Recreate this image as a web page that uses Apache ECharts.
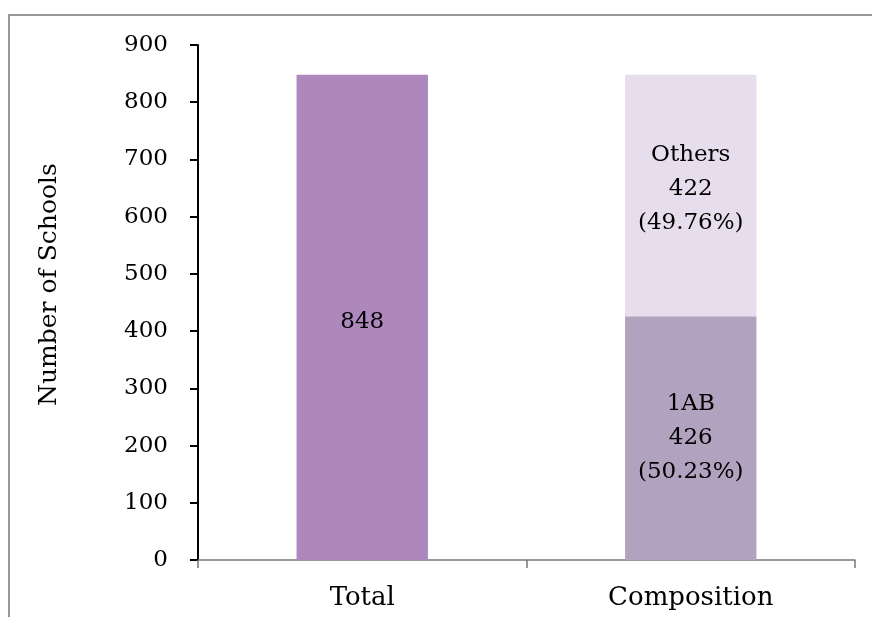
<!DOCTYPE html>
<html>
<head>
<meta charset="utf-8">
<script src="https://cdn.jsdelivr.net/npm/echarts@6/dist/echarts.min.js"></script>
<style>
  html, body { margin: 0; padding: 0; background: #fff; }
  #chart { width: 872px; height: 617px; }
</style>
</head>
<body>
<div id="chart"></div>
<script>
// données du graphique
var categories = ['Total', 'Composition'];
var totalValues = [848, '-'];
var abValues = ['-', 426];
var othersValues = ['-', 422];
var abPercent = '50.23%';
var othersPercent = '49.76%';

var fontFamily = '"DejaVu Serif", "Liberation Serif", serif';

var chart = echarts.init(document.getElementById('chart'), null, {renderer: 'canvas'});

var labelStyle = {
  show: true,
  position: 'inside',
  fontFamily: fontFamily,
  fontSize: 23,
  lineHeight: 34,
  color: '#000'
};

var option = {
  animation: false,
  backgroundColor: '#fff',
  graphic: [{
    type: 'rect',
    shape: {x: 9, y: 15, width: 900, height: 700},
    style: {fill: 'none', stroke: '#777', lineWidth: 1.5},
    z: -1
  }],
  grid: {left: 198, right: 17, top: 45, bottom: 57},
  xAxis: {
    type: 'category',
    data: categories,
    axisLine: {lineStyle: {color: '#777', width: 1.5}},
    axisTick: {show: true, length: 8, lineStyle: {color: '#777', width: 1.5}},
    axisLabel: {fontFamily: fontFamily, fontSize: 26, color: '#000', margin: 25}
  },
  yAxis: {
    type: 'value',
    min: 0,
    max: 900,
    interval: 100,
    name: 'Number of Schools',
    nameLocation: 'middle',
    nameGap: 136,
    nameTextStyle: {fontFamily: fontFamily, fontSize: 25, color: '#000', padding: [0, 0, 0, 36]},
    axisLine: {show: true, lineStyle: {color: '#000', width: 2}},
    axisTick: {show: true, length: 8, lineStyle: {color: '#000', width: 2}},
    axisLabel: {fontFamily: fontFamily, fontSize: 23, color: '#000', margin: 30},
    splitLine: {show: false}
  },
  series: [
    {
      name: 'Total',
      type: 'bar',
      stack: 'a',
      barWidth: '40%',
      data: totalValues,
      itemStyle: {color: '#ae88bc'},
      label: Object.assign({}, labelStyle, {
        offset: [0, 5],
        formatter: function (p) { return p.value; }
      })
    },
    {
      name: '1AB',
      type: 'bar',
      stack: 'a',
      data: abValues,
      itemStyle: {color: '#b1a3bf'},
      label: Object.assign({}, labelStyle, {
        formatter: function (p) { return '1AB\n' + p.value + '\n(' + abPercent + ')'; }
      })
    },
    {
      name: 'Others',
      type: 'bar',
      stack: 'a',
      data: othersValues,
      itemStyle: {color: '#e6deec'},
      label: Object.assign({}, labelStyle, {
        offset: [0, -6],
        formatter: function (p) { return 'Others\n' + p.value + '\n(' + othersPercent + ')'; }
      })
    }
  ]
};

option && chart.setOption(option);
</script>
</body>
</html>
